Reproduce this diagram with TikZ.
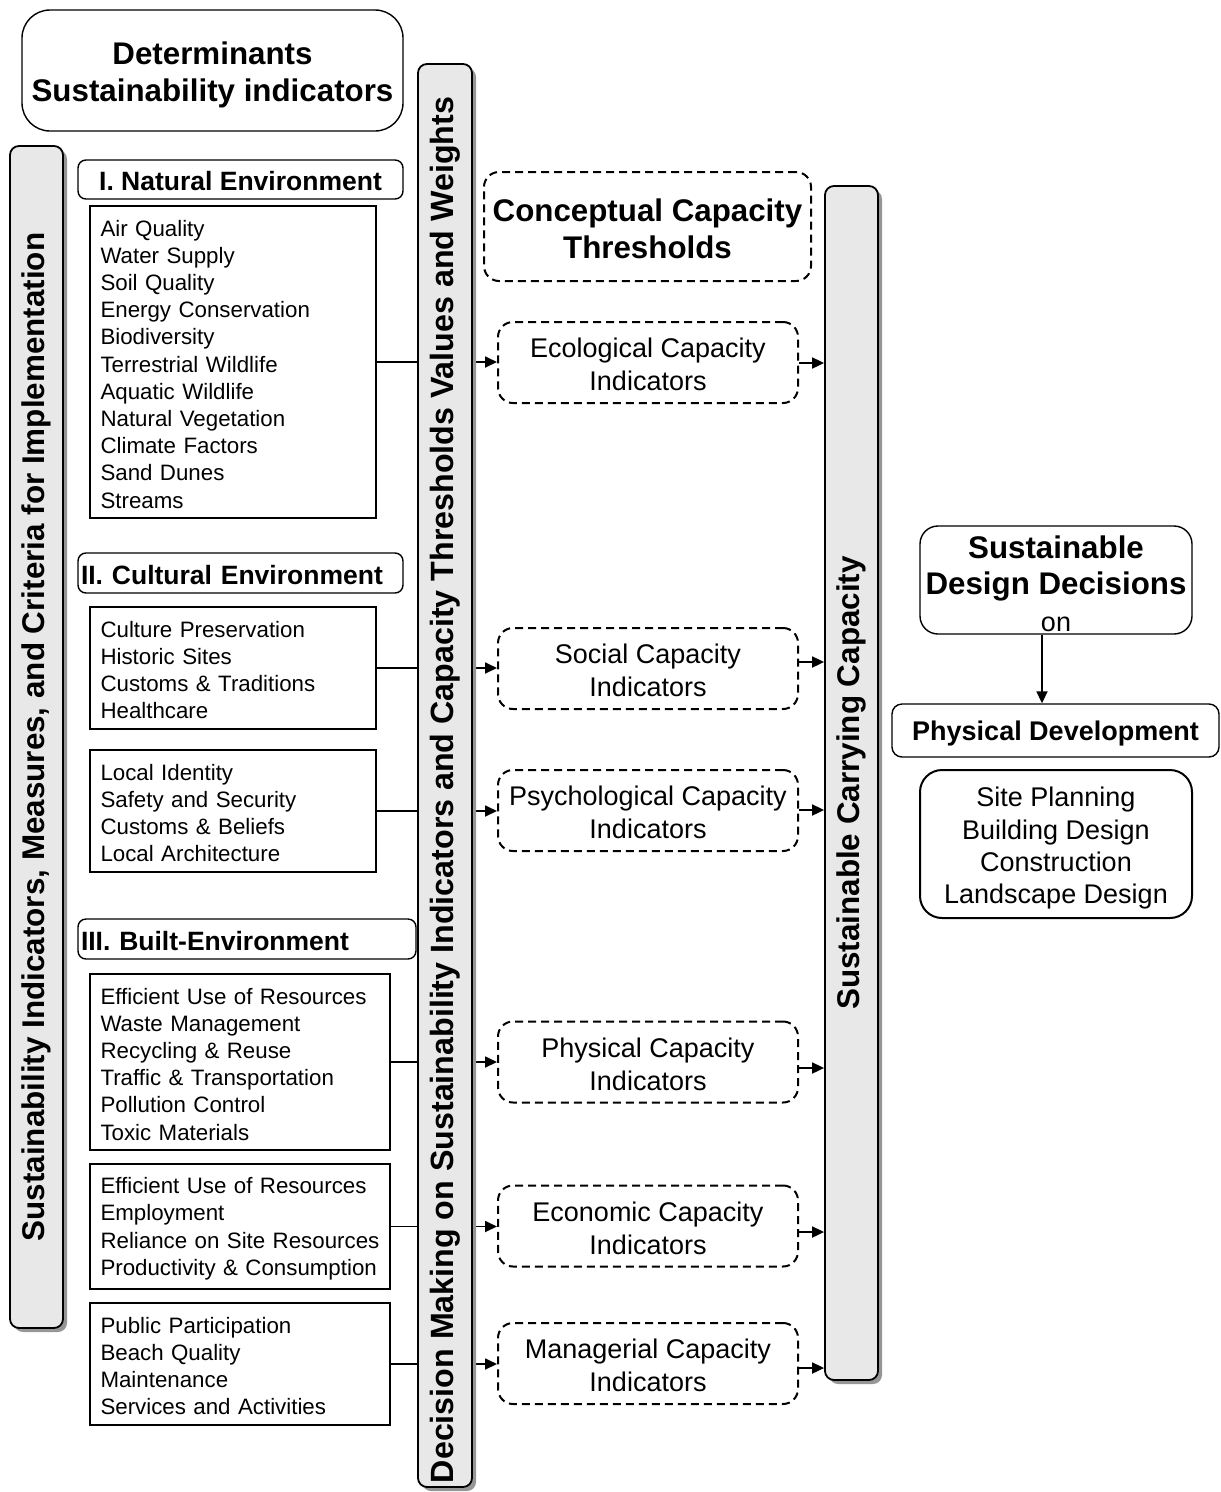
\documentclass[tikz,border=0pt]{standalone}
\usepackage{fontspec}
\setmainfont{Liberation Sans}
\usepackage{graphicx}
\usetikzlibrary{arrows.meta,shadows,calc}
\definecolor{barfill}{RGB}{232,232,232}
\definecolor{shadowgray}{RGB}{150,150,150}
\pgfdeclarelayer{bg}
\pgfsetlayers{bg,main}
\newcommand{\tallstrut}[1]{\rule{0pt}{#1}}
\tikzset{
  bar/.style={draw, line width=1.8pt, fill=barfill, rounded corners=9pt, inner sep=0pt,
    drop shadow={shadow xshift=4pt, shadow yshift=-4pt, fill=shadowgray, opacity=1},
    font=\bfseries\fontsize{31.4}{36}\selectfont},
  listbox/.style={draw, line width=1.4pt, align=left, inner xsep=10.5pt, inner ysep=0pt,
    font=\fontsize{22.3}{27.2}\selectfont},
  hdr/.style={draw, line width=1.4pt, rounded corners=8pt, inner sep=0pt,
    font=\bfseries\fontsize{26.5}{30}\selectfont},
  dbox/.style={draw, dash pattern=on 8pt off 5pt, line width=2pt, rounded corners=15pt,
    align=center, inner sep=0pt, minimum width=300, minimum height=81,
    font=\fontsize{27}{33}\selectfont},
  rbox/.style={draw, line width=1.4pt, align=center, inner sep=0pt},
  conn/.style={line width=1.8pt, -{Triangle[length=12pt,width=11pt]}}
}
\begin{document}
\begin{tikzpicture}[x=1pt,y=-1pt]
\useasboundingbox (0,0) rectangle (1221,1492);

% top title
\node[rbox, rounded corners=28pt, minimum width=381, minimum height=121,
  font=\bfseries\fontsize{31.3}{37}\selectfont] (title) at (212.5,70.5)
  {\tallstrut{31pt}Determinants\\Sustainability indicators};

% bars
\node[bar, minimum width=53, minimum height=1182] (lbar) at (36.5,737)
  {\rotatebox{90}{Sustainability Indicators, Measures, and Criteria for Implementation}};
\node[bar, minimum width=54, minimum height=1423, font=\bfseries\fontsize{32.2}{36}\selectfont] (mbar) at (445,775.5)
  {\rotatebox{90}{\hspace*{-29pt}Decision Making on Sustainability Indicators and Capacity Thresholds Values and Weights}};
\node[bar, minimum width=53, minimum height=1194] (rbar) at (851.5,783)
  {\rotatebox{90}{Sustainable Carrying Capacity}};

% headers
\node[hdr, minimum width=325, minimum height=39] (h1) at (240.5,179.5) {\tallstrut{23pt}I. Natural Environment};
\node[hdr, text width=319, inner xsep=3pt, align=left, minimum height=40] (h2) at (240.5,573) {\tallstrut{23pt}II. Cultural Environment};
\node[hdr, text width=332, inner xsep=3pt, align=left, minimum height=40] (h3) at (247,939) {\tallstrut{23pt}III. Built-Environment};

% list boxes
\node[listbox, text width=265, minimum height=312] (b1) at (233,362)
  {\tallstrut{20.5pt}Air Quality\\Water Supply\\Soil Quality\\Energy Conservation\\Biodiversity\\Terrestrial Wildlife\\Aquatic Wildlife\\Natural Vegetation\\Climate Factors\\Sand Dunes\\Streams};
\node[listbox, text width=265, minimum height=122] (b2) at (233,668)
  {\tallstrut{20.5pt}Culture Preservation\\Historic Sites\\Customs \& Traditions\\Healthcare};
\node[listbox, text width=265, minimum height=122] (b3) at (233,811)
  {\tallstrut{20.5pt}Local Identity\\Safety and Security\\Customs \& Beliefs\\Local Architecture};
\node[listbox, text width=279, minimum height=176] (b4) at (240,1062)
  {\tallstrut{20.5pt}Efficient Use of Resources\\Waste Management\\Recycling \& Reuse\\Traffic \& Transportation\\Pollution Control\\Toxic Materials};
\node[listbox, text width=279, minimum height=125] (b5) at (240,1226.5)
  {\tallstrut{20.5pt}\mbox{Efficient Use of Resources}\\Employment\\\mbox{Reliance on Site Resources}\\\mbox{Productivity \& Consumption}};
\node[listbox, text width=279, minimum height=122] (b6) at (240,1364)
  {\tallstrut{20.5pt}Public Participation\\Beach Quality\\Maintenance\\Services and Activities};

% dashed capacity boxes
\node[dbox, minimum width=327, minimum height=109, font=\bfseries\fontsize{31.3}{37}\selectfont] (ct) at (647.5,226.5)
  {\tallstrut{27pt}Conceptual Capacity\\Thresholds};
\node[dbox] (eco) at (648,362.5) {\tallstrut{24pt}Ecological Capacity\\Indicators};
\node[dbox] (soc) at (648,668.5) {\tallstrut{24pt}Social Capacity\\Indicators};
\node[dbox] (psy) at (648,810.5) {\tallstrut{24pt}Psychological Capacity\\Indicators};
\node[dbox] (phy) at (648,1062) {\tallstrut{24pt}Physical Capacity\\Indicators};
\node[dbox] (eci) at (648,1226) {\tallstrut{24pt}Economic Capacity\\Indicators};
\node[dbox] (man) at (648,1363.5) {\tallstrut{24pt}Managerial Capacity\\Indicators};

% right column
\node[rbox, rounded corners=18pt, minimum width=272, minimum height=108,
  font=\bfseries\fontsize{31.3}{36.5}\selectfont] (sdd) at (1056,580)
  {\tallstrut{30pt}Sustainable\\Design Decisions\\{\mdseries\fontsize{27}{36.5}\selectfont on}};
\node[rbox, rounded corners=10pt, minimum width=327, minimum height=53,
  font=\bfseries\fontsize{27}{32}\selectfont] (pd) at (1055.5,730.5) {\tallstrut{25.5pt}Physical Development};
\node[rbox, line width=2pt, rounded corners=22pt, minimum width=272, minimum height=148,
  font=\fontsize{27}{32.3}\selectfont] (sp) at (1056,844)
  {\tallstrut{28pt}Site Planning\\Building Design\\Construction\\Landscape Design};

% connectors (behind the bars)
\begin{pgfonlayer}{bg}
\draw[conn] (b1.east) -- (b1.east -| eco.west);
\draw[conn] (b2.east) -- (b2.east -| soc.west);
\draw[conn] (b3.east) -- (b3.east -| psy.west);
\draw[conn] (b4.east) -- (b4.east -| phy.west);
\draw[conn] (b5.east) -- (b5.east -| eci.west);
\draw[conn] (b6.east) -- (b6.east -| man.west);
\end{pgfonlayer}

\coordinate (ecoo) at ($(eco.east)+(0,0.5)$);
\coordinate (soco) at ($(soc.east)+(0,-6.5)$);
\coordinate (psyo) at ($(psy.east)+(0,-0.5)$);
\coordinate (phyo) at ($(phy.east)+(0,6)$);
\coordinate (ecio) at ($(eci.east)+(0,6)$);
\coordinate (mano) at ($(man.east)+(0,4.5)$);
\draw[conn] (ecoo) -- (ecoo -| rbar.west);
\draw[conn] (soco) -- (soco -| rbar.west);
\draw[conn] (psyo) -- (psyo -| rbar.west);
\draw[conn] (phyo) -- (phyo -| rbar.west);
\draw[conn] (ecio) -- (ecio -| rbar.west);
\draw[conn] (mano) -- (mano -| rbar.west);

\coordinate (sddo) at ($(sdd.south)+(-14,0)$);
\draw[conn] (sddo) -- (sddo |- pd.north);
\end{tikzpicture}
\end{document}
